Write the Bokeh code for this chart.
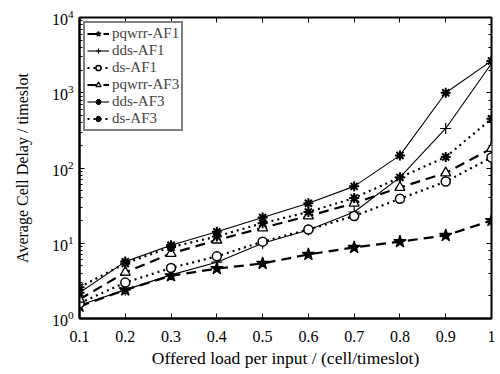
from bokeh.plotting import figure
from bokeh.models import Range1d, LinearAxis, LogAxis, FixedTicker, Legend, LegendItem
from bokeh.embed import file_html
from bokeh.resources import INLINE

loads = [0.1, 0.2, 0.3, 0.4, 0.5, 0.6, 0.7, 0.8, 0.9, 1.0]
pqwrr_af1 = [1.45, 2.4, 3.7, 4.6, 5.4, 7.1, 8.8, 10.5, 12.7, 20]
dds_af1 = [1.5, 2.4, 3.8, 5.6, 10.0, 15.0, 26, 75, 335, 2450]
ds_af1 = [1.6, 3.0, 4.7, 6.7, 10.5, 15.2, 23, 39, 66, 138]
pqwrr_af3 = [1.8, 4.1, 7.3, 11, 16, 23, 34, 55, 86, 182]
dds_af3 = [2.2, 5.7, 9.4, 14.2, 22, 34, 57, 147, 1000, 2650]
ds_af3 = [2.6, 5.4, 8.9, 12.3, 18.5, 26, 40, 75, 140, 450]
x_ticks = [0.1, 0.2, 0.3, 0.4, 0.5, 0.6, 0.7, 0.8, 0.9, 1.0]
x_tick_labels = {0.1: "0.1", 0.2: "0.2", 0.3: "0.3", 0.4: "0.4", 0.5: "0.5",
                 0.6: "0.6", 0.7: "0.7", 0.8: "0.8", 0.9: "0.9", 1.0: "1"}

FONT = "Liberation Serif"

p = figure(width=500, height=374, output_backend="svg", toolbar_location=None,
           y_axis_type="log", x_range=Range1d(0.1, 1.0), y_range=Range1d(1, 10000),
           min_border_left=79, min_border_right=9, min_border_top=17, min_border_bottom=56)
p.grid.visible = False
p.outline_line_color = "black"
p.outline_line_width = 2

p.xaxis.ticker = FixedTicker(ticks=x_ticks)
p.xaxis.major_label_overrides = x_tick_labels
p.xaxis.axis_label = "Offered load per input / (cell/timeslot)"
p.yaxis.axis_label = "Average Cell Delay / timeslot"
for ax in [p.xaxis[0], p.yaxis[0]]:
    ax.axis_label_text_font = FONT
    ax.axis_label_text_font_style = "normal"
    ax.axis_label_text_color = "black"
    ax.major_label_text_font = FONT
    ax.major_label_text_font_size = "16px"
    ax.major_label_text_color = "black"
    ax.major_tick_in = 5
    ax.major_tick_out = 0
    ax.minor_tick_in = 3
    ax.minor_tick_out = 0
    ax.axis_line_width = 2
p.xaxis.axis_label_text_font_size = "17.5px"
p.yaxis.axis_label_text_font_size = "16px"
p.xaxis.minor_tick_line_color = None
p.xaxis.major_label_standoff = 12
p.yaxis.major_label_standoff = 6
p.xaxis.axis_label_standoff = 3
p.yaxis.axis_label_standoff = 18

top = LinearAxis(ticker=FixedTicker(ticks=x_ticks), major_label_text_alpha=0,
                 major_label_text_font_size="2px",
                 major_tick_in=5, major_tick_out=0, minor_tick_line_color=None,
                 axis_line_color=None)
right = LogAxis(major_label_text_alpha=0, major_label_text_font_size="2px",
                major_tick_in=5, major_tick_out=0,
                minor_tick_in=3, minor_tick_out=0, axis_line_color=None)
p.add_layout(top, "above")
p.add_layout(right, "right")

items = []
def series(name, ys, dash, lw, marker, size, fill, mlw=1.2, extra=None):
    r1 = p.line(loads, ys, line_color="black", line_width=lw, line_dash=dash)
    r2 = p.scatter(loads, ys, marker=marker, size=size, line_color="black",
                   fill_color=fill, fill_alpha=1 if fill else 0, line_width=mlw)
    rs = [r1, r2]
    if extra:
        rs.append(p.scatter(loads, ys, marker=extra, size=5, line_color="black",
                            fill_color="black", line_width=1))
    items.append(LegendItem(label=name, renderers=rs))

series("pqwrr-AF1", pqwrr_af1, "10 6", 2.2, "star", 13, "black")
series("dds-AF1", dds_af1, "solid", 1.1, "cross", 11, "white")
series("ds-AF1", ds_af1, "2 4", 2.2, "circle", 9, "white", 1.5)
series("pqwrr-AF3", pqwrr_af3, "10 6", 2.2, "triangle", 10, "white", 1.3)
series("dds-AF3", dds_af3, "solid", 1.1, "asterisk", 10, "white", 2.0, "hex")
series("ds-AF3", ds_af3, "2 4", 2.2, "asterisk", 10, "white", 2.0, "circle")

legend = Legend(items=items, location="top_left", label_text_font=FONT,
                label_text_font_size="15px", label_height=13, glyph_height=13,
                glyph_width=22, spacing=0, padding=2, margin=4,
                label_standoff=3, border_line_color="black", border_line_width=2,
                background_fill_alpha=1)
p.add_layout(legend)

open("out.html", "w").write(file_html(p, INLINE))
